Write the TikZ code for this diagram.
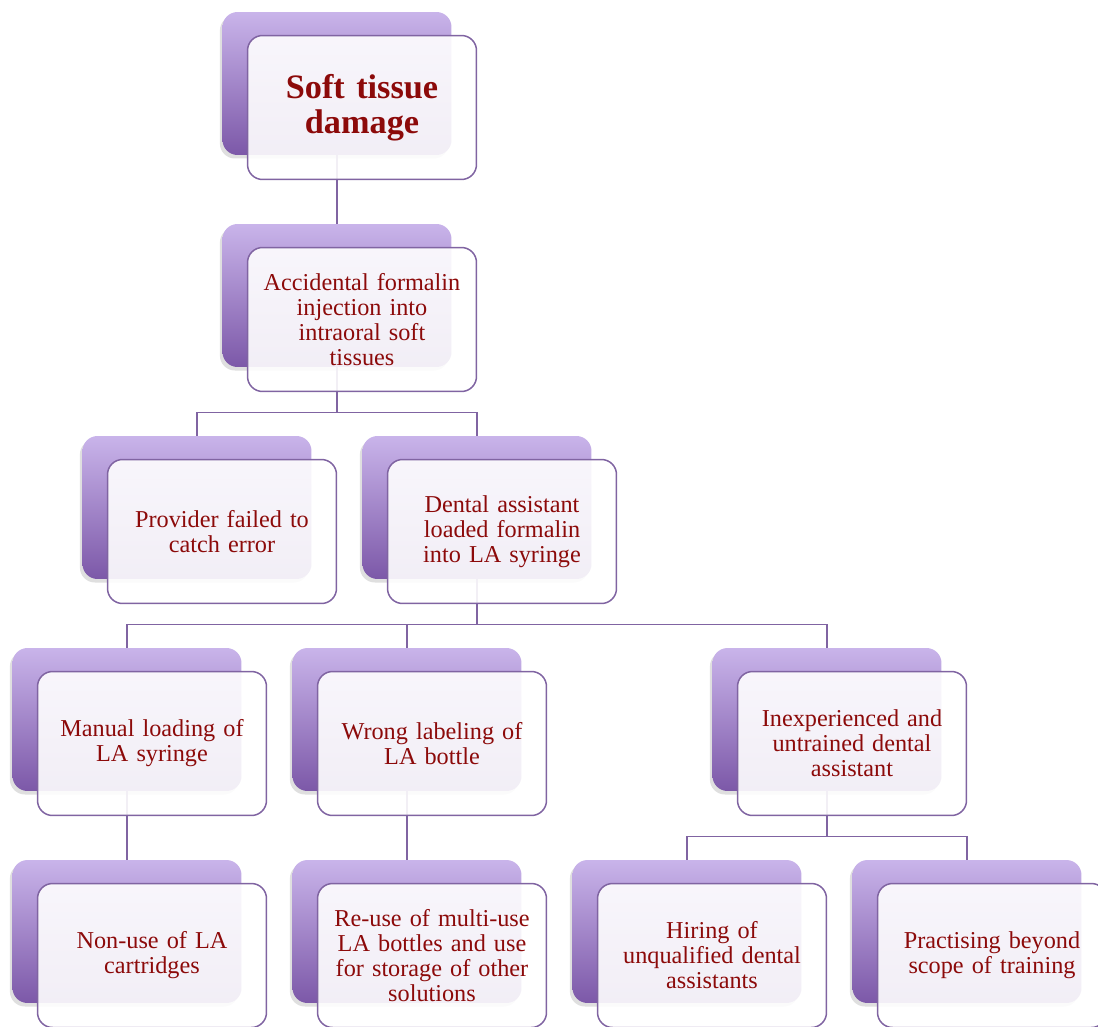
\documentclass[tikz,border=0pt]{standalone}
\usepackage{fontspec}
\setmainfont[WordSpace=0.85]{Liberation Serif}
\usetikzlibrary{positioning,shadows}
\definecolor{cardpurple}{RGB}{128,100,162}
\definecolor{cardtop}{RGB}{201,180,234}
\definecolor{cardbottom}{RGB}{124,88,168}
\definecolor{textred}{RGB}{140,10,10}

\begin{document}
\begin{tikzpicture}[
    x=0.02cm, y=-0.02cm,
    back/.style={rectangle, rounded corners=0.3cm, minimum width=4.58cm, minimum height=2.86cm, inner sep=0pt,
        top color=cardtop, bottom color=cardbottom, draw=none,
        drop shadow={shadow xshift=-1.5pt, shadow yshift=-2pt, opacity=0.25}},
    front/.style={rectangle, rounded corners=0.3cm, minimum width=4.58cm, minimum height=2.88cm, inner sep=0pt,
        draw=cardpurple, line width=0.85pt, fill=white, fill opacity=0.9, text opacity=1,
        text width=4.2cm, align=center, text=textred, font=\fontsize{13.8}{14.2}\selectfont},
    title/.style={front, font=\fontsize{19.5}{20}\selectfont\bfseries},
    link/.style={draw=cardpurple, line width=0.7pt}
]
\clip (0,0) rectangle (1098,1027);

\node[back] (dmgB) at (337,83.5) {};
\node[back] (injB) at (337,295.5) {};
\node[back] (provB) at (197,507.5) {};
\node[back] (dentB) at (477,507.5) {};
\node[back] (manB) at (127,719.5) {};
\node[back] (labB) at (407,719.5) {};
\node[back] (inexpB) at (827,719.5) {};
\node[back] (cartB) at (127,931.5) {};
\node[back] (reuseB) at (407,931.5) {};
\node[back] (hireB) at (687,931.5) {};
\node[back] (beyondB) at (967,931.5) {};

\draw[link] (dmgB.south) -- (injB.north);
\draw[link] (injB.south) -- ++(0,46);
\draw[link] (provB.north) -- ++(0,-23) -| (dentB.north);
\draw[link] (dentB.south) -- ++(0,46);
\draw[link] (manB.north) -- ++(0,-23) -| (inexpB.north);
\draw[link] (labB.north) -- ++(0,-23);
\draw[link] (manB.south) -- (cartB.north);
\draw[link] (labB.south) -- (reuseB.north);
\draw[link] (inexpB.south) -- ++(0,46);
\draw[link] (hireB.north) -- ++(0,-23) -| (beyondB.north);

\node[title] (dmg) at ([shift={(25,24)}]dmgB) {Soft tissue\\damage};
\node[front] (inj) at ([shift={(25,24)}]injB) {Accidental formalin\\injection into\\intraoral soft\\tissues};
\node[front] (prov) at ([shift={(25,24)}]provB) {Provider failed to\\catch error};
\node[front] (dent) at ([shift={(25,24)}]dentB) {Dental assistant\\loaded formalin\\into LA syringe};
\node[front] (man) at ([shift={(25,24)}]manB) {Manual loading of\\LA syringe};
\node[front] (lab) at ([shift={(25,24)}]labB) {Wrong labeling of\\LA bottle};
\node[front] (inexp) at ([shift={(25,24)}]inexpB) {Inexperienced and\\untrained dental\\assistant};
\node[front] (cart) at ([shift={(25,24)}]cartB) {Non-use of LA\\cartridges};
\node[front] (reuse) at ([shift={(25,24)}]reuseB) {Re-use of multi-use\\LA bottles and use\\for storage of other\\solutions};
\node[front] (hire) at ([shift={(25,24)}]hireB) {Hiring of\\unqualified dental\\assistants};
\node[front] (beyond) at ([shift={(25,24)}]beyondB) {Practising beyond\\scope of training};
\end{tikzpicture}
\end{document}
